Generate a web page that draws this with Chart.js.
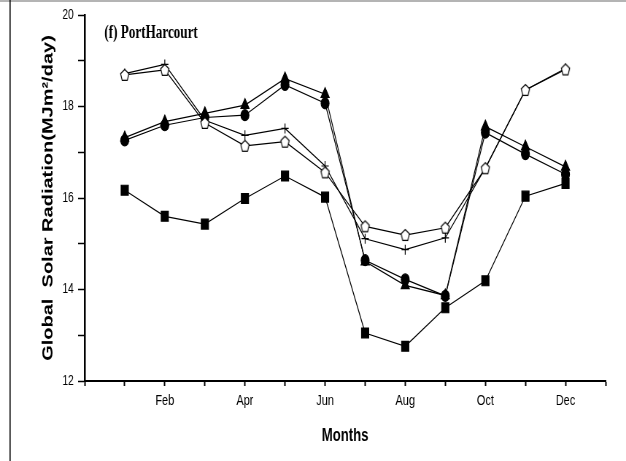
<!DOCTYPE html>
<html>
<head>
<meta charset="utf-8">
<script src="https://cdn.jsdelivr.net/npm/chart.js@4.4.1/dist/chart.umd.min.js"></script>
<style>
  html, body { margin: 0; padding: 0; background: #fff; overflow: hidden; }
</style>
</head>
<body>
<!-- drawn on a wider canvas and squeezed to 626px, like the narrow original figure -->
<canvas id="chart" width="858" height="461" style="display:block;width:626px;height:461px"></canvas>
<script>
const months = [1, 2, 3, 4, 5, 6, 7, 8, 9, 10, 11, 12];
const monthNames = ['Jan', 'Feb', 'Mar', 'Apr', 'May', 'Jun', 'Jul', 'Aug', 'Sep', 'Oct', 'Nov', 'Dec'];

// one series per marker (MJ m-2 / day)
const pentagonSeries = [18.69, 18.80, 17.64, 17.14, 17.23, 16.56, 15.38, 15.19, 15.35, 16.65, 18.36, 18.81];
const plusSeries     = [18.72, 18.92, 17.70, 17.37, 17.52, 16.70, 15.11, 14.87, 15.13, 16.66, 18.36, 18.83];
const circleSeries   = [17.26, 17.59, 17.76, 17.81, 18.47, 18.07, 14.64, 14.22, 13.86, 17.43, 16.96, 16.52];
const triangleSeries = [17.32, 17.67, 17.85, 18.03, 18.61, 18.27, 14.61, 14.09, 13.87, 17.56, 17.12, 16.68];
const squareSeries   = [16.17, 15.60, 15.43, 15.99, 16.48, 16.02, 13.05, 12.76, 13.60, 14.19, 16.04, 16.32];

const panelTitle = '(f) PortHarcourt';
const yTitle = 'Global  Solar Radiation(MJm\u00B2/day)';
const xTitle = 'Months';

(function () {
    const canvas = document.getElementById('chart');
    if (!canvas) return;

    function makePentagon(r, lw) {
        const size = 16;
        const c = document.createElement('canvas');
        c.width = size;
        c.height = size;
        const g = c.getContext('2d');
        g.beginPath();
        for (let i = 0; i < 5; i++) {
            const a = -Math.PI / 2 + i * 2 * Math.PI / 5;
            const px = size / 2 + r * Math.cos(a);
            const py = size / 2 + 0.6 + r * Math.sin(a);
            if (i === 0) g.moveTo(px, py); else g.lineTo(px, py);
        }
        g.closePath();
        g.fillStyle = '#fff';
        g.fill();
        g.lineWidth = lw;
        g.strokeStyle = '#000';
        g.stroke();
        return c;
    }

    const toPoints = (vals) => vals.map((v, i) => ({ x: months[i], y: v }));

    function series(vals, style, radius, fill) {
        return {
            data: toPoints(vals),
            borderColor: '#000',
            borderWidth: 1.2,
            tension: 0,
            pointStyle: style,
            pointRadius: radius,
            pointHoverRadius: radius,
            pointBackgroundColor: fill,
            pointBorderColor: '#000',
            pointBorderWidth: 1.2
        };
    }

    const framePlugin = {
        id: 'frame',
        beforeDraw(chart) {
            const ctx = chart.ctx;
            ctx.save();
            ctx.fillStyle = '#fff';
            ctx.fillRect(0, 0, chart.width, chart.height);
            ctx.fillStyle = '#b4b4b4';
            ctx.fillRect(0, 0, chart.width, 2);
            ctx.fillStyle = '#000';
            ctx.fillRect(13, 0, 1.6, chart.height);
            ctx.restore();
        },
        afterDraw(chart) {
            const { ctx, chartArea } = chart;
            ctx.save();
            ctx.font = 'bold 18px "Liberation Serif", "Times New Roman", serif';
            ctx.fillStyle = '#000';
            ctx.textBaseline = 'alphabetic';
            ctx.fillText(panelTitle, chartArea.left + 27, 38);
            ctx.restore();
        }
    };

    const sansFont = '"Liberation Sans", Arial, sans-serif';

    new Chart(canvas.getContext('2d'), {
        type: 'line',
        data: {
            datasets: [
                series(pentagonSeries, makePentagon(6, 1.2), 6, '#fff'),
                series(plusSeries, 'cross', 5, '#000'),
                series(circleSeries, 'circle', 5.5, '#000'),
                series(triangleSeries, 'triangle', 6.5, '#000'),
                series(squareSeries, 'rect', 7, '#000')
            ]
        },
        plugins: [framePlugin],
        options: {
            responsive: false,
            devicePixelRatio: 1,
            animation: false,
            layout: { padding: { top: 15, right: 28, left: 0, bottom: 0 } },
            plugins: {
                legend: { display: false },
                tooltip: { enabled: false }
            },
            scales: {
                x: {
                    type: 'linear',
                    min: 0,
                    max: 13,
                    afterFit: (s) => { s.height = 80; },
                    border: { display: true, color: '#000', width: 2 },
                    grid: { drawOnChartArea: false, drawTicks: true, tickLength: 5, tickColor: '#000', tickWidth: 2 },
                    ticks: {
                        stepSize: 1,
                        autoSkip: false,
                        maxRotation: 0,
                        padding: 6,
                        color: '#000',
                        font: { family: sansFont, size: 15 },
                        callback: (v) => (v % 2 === 0 && v >= 2 && v <= 12) ? monthNames[v - 1] : ''
                    },
                    title: {
                        display: true,
                        text: xTitle,
                        color: '#000',
                        font: { family: sansFont, size: 18, weight: 'bold' },
                        padding: { top: 0, bottom: 14 }
                    }
                },
                y: {
                    min: 12,
                    max: 20,
                    afterFit: (s) => { s.width = 116; },
                    border: { display: true, color: '#000', width: 2.5 },
                    grid: { drawOnChartArea: false, drawTicks: true, tickLength: 9, tickColor: '#000', tickWidth: 1.5 },
                    ticks: {
                        stepSize: 1,
                        padding: 6,
                        color: '#000',
                        font: { family: sansFont, size: 14 },
                        callback: (v) => (v % 2 === 0) ? String(v) : ''
                    },
                    title: {
                        display: true,
                        text: yTitle,
                        color: '#000',
                        font: { family: sansFont, size: 20, weight: 'bold' },
                        padding: { top: 54, bottom: 0 }
                    }
                }
            }
        }
    });
})();
</script>
</body>
</html>
